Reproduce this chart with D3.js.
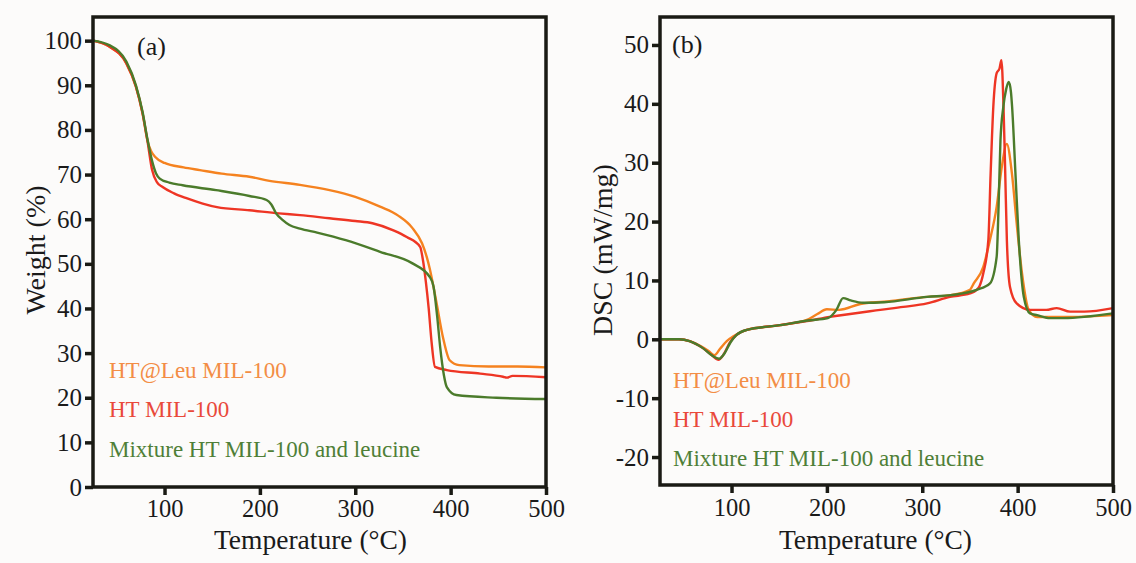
<!DOCTYPE html>
<html>
<head>
<meta charset="utf-8">
<script src="https://cdn.jsdelivr.net/npm/d3@7/dist/d3.min.js"></script>
<style>
  html, body { margin: 0; padding: 0; background: #fcfbfa; }
  svg { display: block; }
  text { font-family: "Liberation Serif", "DejaVu Serif", serif; fill: #1a1a1a; }
</style>
</head>
<body>
<svg id="chart" width="1136" height="563"></svg>
<script>
// ---------- DATA ----------
const seriesNames = ["HT@Leu MIL-100", "HT MIL-100", "Mixture HT MIL-100 and leucine"];
const lineColors = ["#f5821f", "#ee3524", "#4b7b2b"];
const legendColors = ["#f38d45", "#e9493a", "#4f7f37"];

const tgaXTicks = [100, 200, 300, 400, 500];
const tgaYTicks = [0, 10, 20, 30, 40, 50, 60, 70, 80, 90, 100];
const dscXTicks = [100, 200, 300, 400, 500];
const dscYTicks = [-20, -10, 0, 10, 20, 30, 40, 50];

// TGA: [temperature °C, weight %]
const tgaLeu = [[25,100],[42,98.7],[60,94.9],[70,89.7],[77,83.7],[82,77.7],[86,75.2],[90,74],[100,72.6],[120,71.6],[137,71],[160,70.2],[189,69.5],[210,68.6],[242,67.7],[273,66.5],[300,65],[326,62.8],[345,60.8],[360,58],[370,54.6],[375,51.5],[378,49],[385,41.5],[392,33.5],[399,28.4],[409,27.3],[440,27],[470,27],[500,26.8]];
const tgaHT = [[25,100],[42,98.7],[60,94.9],[70,89.7],[77,83.7],[82,77.7],[87,71],[92,68.3],[98,67.2],[110,65.8],[123,64.7],[140,63.5],[155,62.7],[189,62],[220,61.3],[242,60.9],[273,60.2],[300,59.6],[318,59.1],[340,57.5],[354,56],[368,53.8],[371,50.8],[374,46],[377,40],[380,32.5],[383.6,26.9],[396,26.2],[431,25.4],[455,24.7],[459,24.5],[465,24.9],[500,24.6]];
const tgaMix = [[25,100],[42,99],[60,95.3],[70,90],[77,84],[82,78],[87,73],[91,70.3],[95,69.1],[105,68.2],[119,67.6],[154,66.5],[189,65.2],[207,64.3],[212,63.3],[217,61.3],[224,59.8],[231,58.7],[242,57.9],[260,57],[290,55.3],[326,52.7],[360,50.1],[378,47.1],[382,45],[386,38],[389,31.4],[393,25],[396,22.4],[406,20.6],[448,20],[500,19.7]];

// DSC: [temperature °C, mW/mg]
const dscLeu = [[25,0],[45,0],[56,-0.3],[68,-1.2],[76,-2],[82,-2.7],[88,-1.6],[95,-0.3],[102,0.5],[116,1.6],[151,2.4],[179,3.3],[190,4.3],[200,5.1],[213,5],[235,6],[260,6.4],[305,7.2],[330,7.5],[350,8.4],[354,9.5],[364,12.3],[371,16.9],[378,22.5],[383.4,29.3],[388.6,33.2],[394,28.2],[399,19.7],[404.6,11.2],[411.6,5],[420.5,3.8],[455,3.8],[500,4.1]];
const dscHT = [[25,0],[45,0],[56,-0.3],[70,-1.5],[80,-2.8],[86,-3.5],[92,-2.5],[98,-0.6],[105,0.7],[116,1.6],[151,2.4],[179,3.1],[203,3.8],[256,5],[280,5.5],[305,6.1],[329,7.2],[350,7.8],[357,8.4],[360,9],[364,11.2],[369.3,16.9],[371.7,28.2],[374.5,39.5],[378,45.2],[381,46],[383,47.4],[385.2,39.5],[387,28.2],[388.7,16.9],[392,8.9],[399,6.1],[413,5],[430,5],[441,5.3],[455,4.7],[470,4.7],[500,5.3]];
const dscMix = [[25,0],[45,0],[56,-0.3],[70,-1.5],[80,-2.8],[87,-3.3],[93,-2.3],[99,-0.5],[105,0.7],[116,1.6],[151,2.4],[180,3.2],[201,3.6],[210,5],[217,7],[225,6.6],[238,6.2],[260,6.3],[305,7.2],[330,7.5],[357,8.4],[371,9.5],[378,14],[380,22.5],[382,33.8],[385,39.5],[388,42.5],[390.7,43.7],[393,42],[394.2,39.5],[397.7,28.2],[401.2,16.9],[406.5,7.2],[413,4.4],[420.5,4.1],[434,3.6],[448,3.6],[500,4.4]];

const tgaSeries = [tgaLeu, tgaHT, tgaMix];
const dscSeries = [dscLeu, dscHT, dscMix];

// ---------- DRAW ----------
const svg = d3.select("#chart");
const fmt = d => String(d).replace("\u2212", "-");

function panel(cfg) {
  const x = d3.scaleLinear().domain([25, 500]).range([cfg.x0, cfg.x1]);
  const y = d3.scaleLinear().domain(cfg.yDomain).range([cfg.y1, cfg.y0]);
  const g = svg.append("g");

  const line = d3.line().x(d => x(d[0])).y(d => y(d[1])).curve(d3.curveMonotoneX);
  cfg.series.forEach((s, i) => {
    g.append("path").datum(s).attr("d", line)
      .attr("fill", "none").attr("stroke", lineColors[i])
      .attr("stroke-width", 2.4).attr("stroke-linejoin", "round");
  });

  // axes
  const xa = g.append("g").attr("transform", `translate(0,${cfg.y1})`)
    .call(d3.axisBottom(x).tickValues(cfg.xTicks).tickFormat(fmt).tickSize(8).tickPadding(cfg.xPad));
  const ya = g.append("g").attr("transform", `translate(${cfg.x0},0)`)
    .call(d3.axisLeft(y).tickValues(cfg.yTicks).tickFormat(fmt).tickSize(8).tickPadding(3));
  [xa, ya].forEach(a => {
    a.select(".domain").remove();
    a.selectAll(".tick line").attr("stroke", "#1a1a14").attr("stroke-width", 3.5);
    a.selectAll(".tick text").attr("font-size", 25).attr("font-family", "Liberation Serif").attr("fill", "#1a1a1a");
  });
  xa.selectAll(".tick text").attr("font-size", 24.5);

  // frame
  g.append("rect").attr("x", cfg.x0).attr("y", cfg.y0)
    .attr("width", cfg.x1 - cfg.x0).attr("height", cfg.y1 - cfg.y0)
    .attr("fill", "none").attr("stroke", "#1a1a14").attr("stroke-width", 3.5);

  // titles
  g.append("text").attr("x", (cfg.x0 + cfg.x1) / 2 + cfg.xTitleShift).attr("y", 549)
    .attr("text-anchor", "middle").attr("font-size", 27.5).text("Temperature (°C)");
  g.append("text").attr("transform", `translate(${cfg.yTitleX},${cfg.yTitleY}) rotate(-90)`)
    .attr("text-anchor", "middle").attr("font-size", 28).text(cfg.yTitle);
  g.append("text").attr("x", cfg.labelX).attr("y", cfg.labelY)
    .attr("font-size", 26).text(cfg.label);

  // legend
  seriesNames.forEach((n, i) => {
    g.append("text").attr("x", cfg.legX).attr("y", cfg.legY + i * cfg.legDy)
      .attr("font-size", 23).style("fill", legendColors[i]).text(n);
  });
}

panel({
  x0: 93, x1: 546, y0: 17, y1: 487, yDomain: [0, 105.3],
  series: tgaSeries, xTicks: tgaXTicks, yTicks: tgaYTicks, xPad: 5,
  yTitle: "Weight (%)", yTitleX: 45, yTitleY: 250, xTitleShift: -9,
  label: "(a)", labelX: 137, labelY: 55,
  legX: 109, legY: 378, legDy: 39.3
});

panel({
  x0: 660, x1: 1113, y0: 17, y1: 485, yDomain: [-24.75, 54.75],
  series: dscSeries, xTicks: dscXTicks, yTicks: dscYTicks, xPad: 6,
  yTitle: "DSC (mW/mg)", yTitleX: 612, yTitleY: 250, xTitleShift: -11,
  label: "(b)", labelX: 672, labelY: 53,
  legX: 673, legY: 388, legDy: 39.2
});
</script>
</body>
</html>
